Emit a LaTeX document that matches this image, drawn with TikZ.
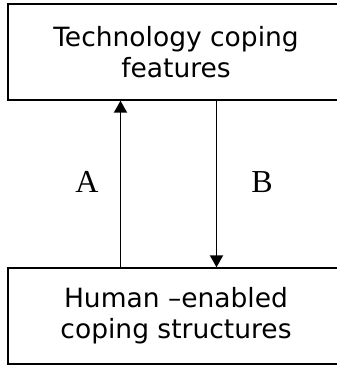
\documentclass[tikz,border=0pt]{standalone}
\usepackage{fontspec}
\setmainfont{Liberation Serif}
\newfontfamily\boxfont{DejaVu Sans}
\usetikzlibrary{arrows.meta,calc}

\begin{document}
\begin{tikzpicture}[x=1pt,y=1pt]
		%%%%% START %%%%%
		\useasboundingbox (0,0) rectangle (337,-365);
		\tikzset{copebox/.style={draw,line width=1.4pt,minimum width=336pt,minimum height=96pt,inner sep=0pt,align=center,font=\boxfont\fontsize{26.5}{31}\selectfont},
			flow/.style={line width=1.9pt,-{Triangle[length=12pt,width=13pt]}}}
		
		\node[copebox] (tech) at (176,-52) {Technology coping\\features};
		\node[copebox] (human) at (176,-316) {Human –enabled\\coping structures};
		
		\coordinate (upx) at (120.5,0);
		\coordinate (downx) at (216.5,0);
		
		\draw[flow] (human.north -| upx) -- (tech.south -| upx);
		\draw[flow] (tech.south -| downx) -- (human.north -| downx);
		
		\node[font=\fontsize{32}{36}\selectfont] (labA) at (87,-182) {A};
		\node[font=\fontsize{32}{36}\selectfont] (labB) at (262,-182) {B};
		%%%%% END %%%%%
	\end{tikzpicture}
\end{document}
